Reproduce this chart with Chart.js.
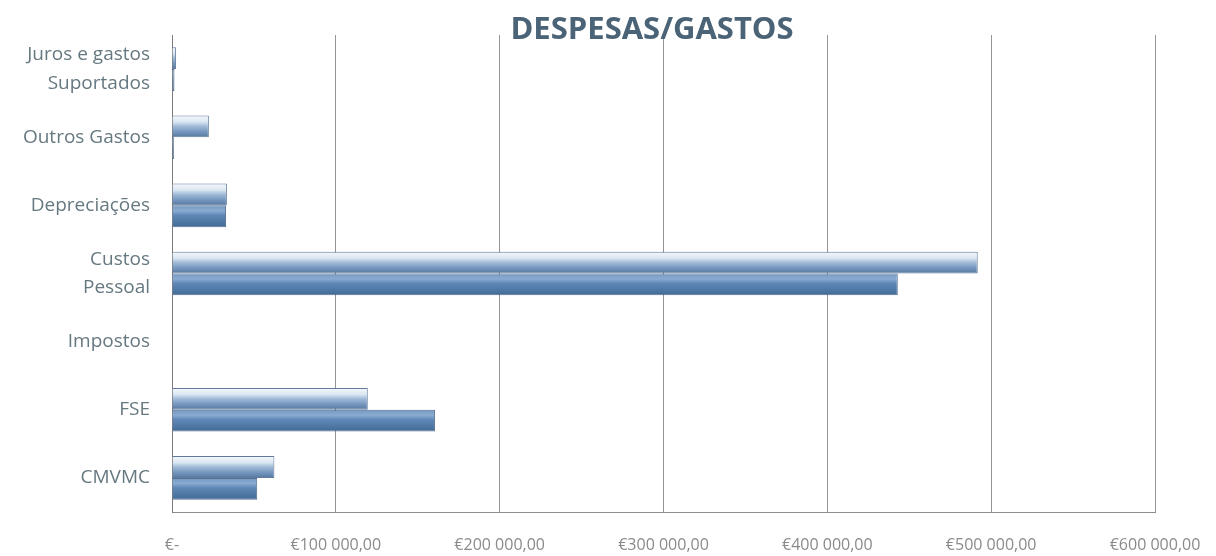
<!DOCTYPE html>
<html>
<head>
<meta charset="utf-8">
<script src="https://cdn.jsdelivr.net/npm/chart.js@4"></script>
<style>
  html, body { margin: 0; padding: 0; background: #ffffff; overflow: hidden; }
  #wrap { width: 1216px; height: 556px; position: relative; }
  canvas { display: block; }
</style>
</head>
<body>
<div id="wrap"><canvas id="c" width="1216" height="556"></canvas></div>
<script>
const chartTitle = 'DESPESAS/GASTOS';
const categories = [['Juros e gastos', 'Suportados'], 'Outros Gastos', 'Depreciações', ['Custos', 'Pessoal'], 'Impostos', 'FSE', 'CMVMC'];
const serieA = [2500, 22500, 33500, 491800, 0, 119500, 62500];
const serieB = [1500, 1200, 33000, 443000, 0, 160500, 52000];
const xTicks = [0, 100000, 200000, 300000, 400000, 500000, 600000];

const CAT_PCT = 0.64;

function fmtEuro(v) {
  if (v === 0) return '€-';
  const s = Math.round(v).toString().replace(/\B(?=(\d{3})+(?!\d))/g, ' ');
  return '€' + s + ',00';
}

function barFill(ctx, stops, fallback) {
  const chart = ctx.chart;
  const y = chart.scales && chart.scales.y;
  if (!y || ctx.type !== 'data' || !isFinite(y.top)) return fallback;
  const center = y.getPixelForValue(ctx.dataIndex);
  const band = (y.bottom - y.top) / categories.length;
  const h = band * CAT_PCT / 2;
  const top = ctx.datasetIndex === 0 ? center - h : center;
  const g = chart.ctx.createLinearGradient(0, top, 0, top + h);
  stops.forEach(s => g.addColorStop(s[0], s[1]));
  return g;
}

const stopsA = [[0, '#f6f9fd'], [0.3, '#dae6f2'], [0.5, '#a0bad7'], [0.75, '#7596be'], [1, '#56779e']];
const stopsB = [[0, '#7398c2'], [0.25, '#8aabd1'], [0.45, '#5f88b7'], [1, '#416a96']];

const titlePlugin = {
  id: 'customTitle',
  afterDraw(chart) {
    const c = chart.ctx;
    c.save();
    c.font = 'bold 31px "Open Sans"';
    c.fillStyle = '#4a6376';
    c.textAlign = 'center';
    c.textBaseline = 'alphabetic';
    c.fillText(chartTitle, 652, 39);
    c.restore();
  }
};

new Chart(document.getElementById('c'), {
  type: 'bar',
  data: {
    labels: categories,
    datasets: [
      {
        label: 'Série 1',
        data: serieA,
        backgroundColor: ctx => barFill(ctx, stopsA, '#9db8d6'),
        borderColor: 'rgba(70,100,140,0.85)',
        borderWidth: 1,
        categoryPercentage: CAT_PCT,
        barPercentage: 1.0
      },
      {
        label: 'Série 2',
        data: serieB,
        backgroundColor: ctx => barFill(ctx, stopsB, '#5c85b4'),
        borderColor: 'rgba(55,85,125,0.85)',
        borderWidth: 1,
        categoryPercentage: CAT_PCT,
        barPercentage: 1.0
      }
    ]
  },
  options: {
    indexAxis: 'y',
    responsive: false,
    animation: false,
    devicePixelRatio: 1,
    layout: { padding: { left: 0, right: 61, top: 35, bottom: 0 } },
    plugins: {
      legend: { display: false },
      title: { display: false },
      tooltip: { enabled: false }
    },
    scales: {
      x: {
        type: 'linear',
        min: 0,
        max: 600000,
        afterBuildTicks(scale) { scale.ticks = xTicks.map(v => ({ value: v })); },
        afterFit(scale) {
          scale.height = 44;
          scale.paddingLeft = 0; scale.paddingRight = 0;
          scale.paddingTop = 0; scale.paddingBottom = 0;
        },
        grid: { color: '#959595', lineWidth: 1, drawTicks: false },
        border: { display: true, color: '#8e8e8e', width: 1 },
        ticks: {
          callback: v => fmtEuro(v),
          color: '#8a8a8a',
          font: { family: '"Open Sans"', size: 16 },
          padding: 24,
          maxRotation: 0,
          autoSkip: false
        }
      },
      y: {
        afterFit(scale) {
          scale.width = 172;
          scale.paddingLeft = 0; scale.paddingRight = 0;
          scale.paddingTop = 0; scale.paddingBottom = 0;
        },
        grid: { display: false, drawTicks: false },
        border: { display: true, color: '#7d7d7d', width: 1 },
        ticks: {
          color: '#667880',
          font: { family: '"Open Sans"', size: 19, lineHeight: 1.5 },
          padding: 22,
          autoSkip: false
        }
      }
    }
  },
  plugins: [titlePlugin]
});
</script>
</body>
</html>
